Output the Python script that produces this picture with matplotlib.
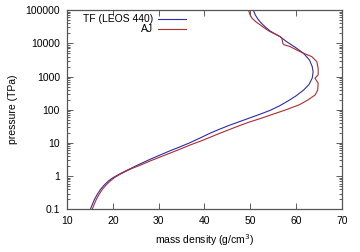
import numpy as np
import matplotlib
matplotlib.use('Agg')
import matplotlib.pyplot as plt
from matplotlib.ticker import FixedLocator, LogLocator, NullFormatter

plt.rcParams['font.family'] = ['Liberation Sans', 'DejaVu Sans']

# TF (LEOS 440): mass density (g/cm3) and log10 pressure (TPa)
tf_rho = [15.1, 15.5, 16.0, 16.6, 17.3, 18.1, 19.0, 20.1, 21.4, 22.8, 24.3,
          25.8, 28.0, 30.2, 32.4, 34.6, 36.7, 38.9, 41.0, 43.2, 45.4, 47.6,
          49.8, 52.0, 54.3, 56.4, 58.3, 60.0, 61.6, 62.8, 63.5, 63.7, 63.5,
          62.9, 61.6, 59.8, 57.9, 56.5, 55.2, 54.3, 53.2, 52.3, 51.7, 51.1,
          50.65]
tf_logp = [-1.0, -0.86, -0.70, -0.55, -0.40, -0.27, -0.15, -0.04, 0.06, 0.16,
           0.26, 0.36, 0.50, 0.63, 0.76, 0.88, 1.00, 1.14, 1.28, 1.41, 1.53,
           1.64, 1.75, 1.86, 1.98, 2.12, 2.27, 2.42, 2.59, 2.76, 2.95, 3.14,
           3.30, 3.50, 3.70, 3.88, 4.05, 4.20, 4.30, 4.37, 4.50, 4.62, 4.72,
           4.85, 5.0]

# AJ
aj_rho = [15.5, 15.9, 16.4, 17.0, 17.7, 18.5, 19.4, 20.4, 21.5, 22.9, 24.3,
          25.8, 28.0, 30.2, 32.4, 34.6, 36.7, 39.6, 43.5, 47.6, 49.8, 52.3,
          54.6, 57.8, 60.7, 62.5, 64.1, 64.7, 64.8, 64.1, 64.8, 64.8, 64.5,
          63.4, 61.6, 60.1, 58.7, 57.3, 57.1, 56.9, 56.5, 55.4, 54.3, 53.2,
          52.2, 51.2, 50.4, 49.9, 49.6]
aj_logp = [-1.0, -0.86, -0.70, -0.55, -0.40, -0.27, -0.15, -0.04, 0.05, 0.15,
           0.24, 0.32, 0.45, 0.57, 0.69, 0.81, 0.93, 1.08, 1.30, 1.52, 1.63,
           1.74, 1.85, 2.00, 2.15, 2.29, 2.44, 2.59, 2.80, 2.95, 3.05, 3.25,
           3.45, 3.60, 3.70, 3.80, 3.90, 3.96, 4.0, 4.15, 4.20, 4.28, 4.35,
           4.45, 4.55, 4.65, 4.75, 4.87, 5.0]

xticks = [10, 20, 30, 40, 50, 60, 70]
yticks = [0.1, 1, 10, 100, 1000, 10000, 100000]
ylabels = ['0.1', '1', '10', '100', '1000', '10000', '100000']

fig = plt.figure(figsize=(3.6, 2.52), dpi=100)
ax = fig.add_axes([0.186, 0.169, 0.764, 0.791])

ax.plot(tf_rho, 10 ** np.array(tf_logp), color='#2b2bb0', lw=0.8,
        label='TF (LEOS 440)')
ax.plot(aj_rho, 10 ** np.array(aj_logp), color='#b02b2b', lw=0.8, label='AJ')

ax.set_yscale('log')
ax.set_xlim(10, 70)
ax.set_ylim(0.1, 100000)
ax.xaxis.set_major_locator(FixedLocator(xticks))
ax.set_xticklabels([str(t) for t in xticks])
ax.yaxis.set_major_locator(FixedLocator(yticks))
ax.set_yticklabels(ylabels)
ax.yaxis.set_minor_locator(LogLocator(base=10, subs=np.arange(2, 10)))
ax.yaxis.set_minor_formatter(NullFormatter())

ax.tick_params(which='both', direction='in', top=True, right=True,
               labelsize=7.5, color='#444444', width=0.6)
ax.tick_params(which='major', length=4, pad=5)
ax.tick_params(which='minor', length=2)
for s in ax.spines.values():
    s.set_color('#555555')
    s.set_linewidth(0.9)

ax.set_xlabel('mass density (g/cm$^3$)', fontsize=7.5, labelpad=4)
ax.set_ylabel('pressure (TPa)', fontsize=7.5, labelpad=5)

ax.legend(loc='upper right', bbox_to_anchor=(0.45, 1.005), frameon=False,
          markerfirst=False, fontsize=7.5, handlelength=2.6,
          handletextpad=0.5, labelspacing=0.0, borderaxespad=0.1)

fig.savefig('out.png', dpi=100)
